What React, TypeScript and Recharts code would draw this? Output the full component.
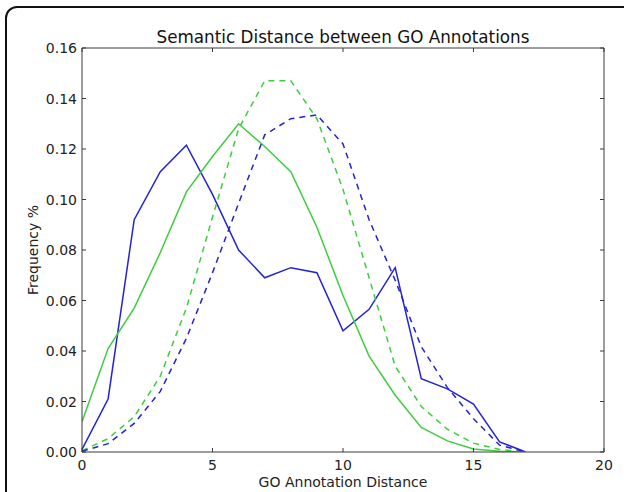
import React from 'react';
import { LineChart, Line, XAxis, YAxis } from 'recharts';

// distances 0..17
const distances = [0, 1, 2, 3, 4, 5, 6, 7, 8, 9, 10, 11, 12, 13, 14, 15, 16, 17];

const blueSolid = [0.001, 0.021, 0.092, 0.111, 0.1215, 0.102, 0.080, 0.069, 0.073, 0.071, 0.048, 0.0565, 0.073, 0.029, 0.025, 0.019, 0.004, 0];
const greenSolid = [0.012, 0.041, 0.057, 0.079, 0.103, 0.117, 0.130, 0.121, 0.111, 0.089, 0.062, 0.038, 0.0225, 0.0097, 0.0044, 0.0012, 0.0003, 0];
const greenDashed = [0.0005, 0.0053, 0.014, 0.030, 0.057, 0.093, 0.128, 0.147, 0.147, 0.132, 0.104, 0.069, 0.034, 0.018, 0.009, 0.0035, 0.001, 0];
const blueDashed = [0.0003, 0.0033, 0.0113, 0.024, 0.045, 0.071, 0.0985, 0.1256, 0.132, 0.1335, 0.122, 0.092, 0.068, 0.0417, 0.0255, 0.0132, 0.0027, 0];

const xTicks = [0, 5, 10, 15, 20];
const yTicks = [0, 0.02, 0.04, 0.06, 0.08, 0.1, 0.12, 0.14, 0.16];

const data = distances.map((d, i) => ({
    x: d,
    blueSolid: blueSolid[i],
    greenSolid: greenSolid[i],
    greenDashed: greenDashed[i],
    blueDashed: blueDashed[i],
}));

const FONT = '"DejaVu Sans", sans-serif';
const BLUE = '#2323d4';
const GREEN = '#3fcc3f';
const AXIS = '#3a3a3a';
const TICK_LEN = 4;

// matplotlib style: ticks point inwards
const BottomTick = (props: any) => {
    const { x, y, payload } = props;
    return (
        <g>
            <line x1={x} y1={y} x2={x} y2={y - TICK_LEN} stroke={AXIS} />
            <text x={x} y={y + 18} textAnchor="middle" fontSize={14} fontFamily={FONT} fill="#222">{payload.value}</text>
        </g>
    );
};

const TopTick = (props: any) => {
    const { x, y } = props;
    return <line x1={x} y1={y} x2={x} y2={y + TICK_LEN} stroke={AXIS} />;
};

const LeftTick = (props: any) => {
    const { x, y, payload } = props;
    return (
        <g>
            <line x1={x} y1={y} x2={x + TICK_LEN} y2={y} stroke={AXIS} />
            <text x={x - 5} y={y + 5} textAnchor="end" fontSize={14} fontFamily={FONT} fill="#222">{Number(payload.value).toFixed(2)}</text>
        </g>
    );
};

const RightTick = (props: any) => {
    const { x, y } = props;
    return <line x1={x} y1={y} x2={x - TICK_LEN} y2={y} stroke={AXIS} />;
};

export default function App() {
    return (
        <div style={{ position: 'absolute', left: 0, top: 0, width: 624, height: 492, overflow: 'hidden', background: '#fff' }}>
            {/* rounded frame around the figure */}
            <div style={{ position: 'absolute', left: 5, top: 6, width: 640, height: 540, border: '2px solid #111', borderRadius: 12 }} />

            <div style={{ position: 'absolute', left: 82, width: 522, top: 27, textAlign: 'center', fontFamily: FONT, fontSize: 16.8, color: '#111' }}>
                Semantic Distance between GO Annotations
            </div>
            <div style={{ position: 'absolute', left: 82, width: 522, top: 474, textAlign: 'center', fontFamily: FONT, fontSize: 14, color: '#222' }}>
                GO Annotation Distance
            </div>
            <div style={{ position: 'absolute', left: 33, top: 250, fontFamily: FONT, fontSize: 14, color: '#222', whiteSpace: 'nowrap', transform: 'translate(-50%, -50%) rotate(-90deg)' }}>
                Frequency %
            </div>

            <div style={{ position: 'absolute', left: 0, top: 0 }}>
                <LineChart width={624} height={492} data={data} margin={{ top: 47, right: 19, bottom: 39, left: 81 }}>
                    <XAxis dataKey="x" type="number" domain={[0, 20]} ticks={xTicks} interval={0} height={1}
                        tickSize={0} tickMargin={0} tick={<BottomTick />} axisLine={{ stroke: AXIS }} allowDataOverflow />
                    <XAxis xAxisId="top" orientation="top" dataKey="x" type="number" domain={[0, 20]} ticks={xTicks} interval={0} height={1}
                        tickSize={0} tickMargin={0} tick={<TopTick />} axisLine={{ stroke: AXIS }} allowDataOverflow />
                    <YAxis type="number" domain={[0, 0.16]} ticks={yTicks} interval={0} width={1}
                        tickSize={0} tickMargin={0} tick={<LeftTick />} axisLine={{ stroke: AXIS }} allowDataOverflow />
                    <YAxis yAxisId="right" orientation="right" type="number" domain={[0, 0.16]} ticks={yTicks} interval={0} width={1}
                        tickSize={0} tickMargin={0} tick={<RightTick />} axisLine={{ stroke: AXIS }} allowDataOverflow />
                    <Line type="linear" dataKey="blueSolid" stroke={BLUE} strokeWidth={1.5} dot={false} isAnimationActive={false} />
                    <Line type="linear" dataKey="greenSolid" stroke={GREEN} strokeWidth={1.5} dot={false} isAnimationActive={false} />
                    <Line type="linear" dataKey="greenDashed" stroke={GREEN} strokeWidth={1.5} strokeDasharray="6 5" dot={false} isAnimationActive={false} />
                    <Line type="linear" dataKey="blueDashed" stroke={BLUE} strokeWidth={1.5} strokeDasharray="6 5" dot={false} isAnimationActive={false} />
                </LineChart>
            </div>
        </div>
    );
}
